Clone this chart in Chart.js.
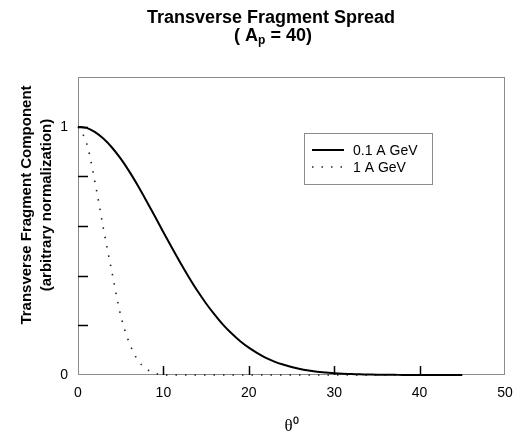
<!DOCTYPE html>
<html>
<head>
<meta charset="utf-8">
<script src="https://cdn.jsdelivr.net/npm/chart.js@4/dist/chart.umd.min.js"></script>
<style>
  html, body { margin: 0; padding: 0; background: #fff; }
  #wrap { width: 522px; height: 441px; }
</style>
</head>
<body>
<div id="wrap"><canvas id="myChart" width="522" height="441"></canvas></div>
<script>
// theta in degrees
const theta = [0,1,2,3,4,5,6,7,8,9,10,11,12,13,14,15,16,17,18,19,20,21,22,23,24,25,26,27,28,29,30,31,32,33,34,35,36,37,38,39,40,41,42,43,44,45]
// 0.1 A GeV
const spreadLow = [1.0,0.995,0.978,0.951,0.915,0.871,0.820,0.763,0.702,0.639,0.575,0.512,0.451,0.393,0.338,0.288,0.243,0.202,0.167,0.136,0.110,0.088,0.069,0.054,0.042,0.032,0.024,0.018,0.013,0.010,0.007,0.005,0.004,0.003,0.002,0.001,0.001,0.001,0,0,0,0,0,0,0,0]
// 1 A GeV
const spreadHigh = [1.0,0.935,0.775,0.585,0.41,0.24,0.13,0.06,0.025,0.007,0.001,0,0,0,0,0,0,0,0,0,0,0,0,0,0,0,0,0,0,0,0,0,0,0,0,0,0,0,0,0,0,0,0,0,0,0]
const seriesNames = ['0.1 A GeV', '1 A GeV']
const xTicks = [0, 10, 20, 30, 40, 50]
const yLabels = [0, 1]

const sans = 'Arial, "Liberation Sans", sans-serif'
Chart.defaults.font.family = sans
Chart.defaults.color = '#000'

function toPoints(ys) {
  return theta.map((t, i) => ({ x: t, y: ys[i] }))
}

// frame, inward ticks, titles and legend box
const decor = {
  id: 'decor',
  beforeDatasetsDraw(chart) {
    const ctx = chart.ctx
    const a = chart.chartArea
    ctx.save()
    ctx.strokeStyle = '#8c8c8c'
    ctx.lineWidth = 1
    ctx.strokeRect(a.left + 0.5, a.top + 0.5, a.right - a.left - 1, a.bottom - a.top - 1)
    ctx.restore()
  },
  afterDraw(chart) {
    const ctx = chart.ctx
    const a = chart.chartArea
    const xs = chart.scales.x
    const ys = chart.scales.y
    ctx.save()

    ctx.strokeStyle = '#000'
    ctx.lineWidth = 1.5
    ctx.beginPath()
    ys.ticks.forEach(t => {
      if (t.value <= 0 || t.value >= 1.2 - 1e-6) return
      const py = Math.round(ys.getPixelForValue(t.value)) + 0.5
      ctx.moveTo(a.left, py)
      ctx.lineTo(a.left + 10, py)
    })
    xs.ticks.forEach(t => {
      if (t.value <= 0 || t.value >= 50) return
      const px = Math.round(xs.getPixelForValue(t.value)) + 0.5
      ctx.moveTo(px, a.bottom)
      ctx.lineTo(px, a.bottom - 9)
    })
    ctx.stroke()

    // main title
    ctx.fillStyle = '#000'
    ctx.textAlign = 'center'
    ctx.textBaseline = 'alphabetic'
    ctx.font = 'bold 18px ' + sans
    ctx.fillText('Transverse Fragment Spread', 271, 23)
    const p1 = '( A', p2 = ' = 40)'
    const w1 = ctx.measureText(p1).width
    const w2 = ctx.measureText(p2).width
    ctx.font = 'bold 12px ' + sans
    const ws = ctx.measureText('p').width
    let x0 = 273 - (w1 + ws + w2) / 2
    ctx.textAlign = 'left'
    ctx.font = 'bold 18px ' + sans
    ctx.fillText(p1, x0, 41)
    ctx.font = 'bold 12px ' + sans
    ctx.fillText('p', x0 + w1, 44)
    ctx.font = 'bold 18px ' + sans
    ctx.fillText(p2, x0 + w1 + ws, 41)

    // y title, two lines
    ctx.save()
    ctx.translate(0, 205)
    ctx.rotate(-Math.PI / 2)
    ctx.textAlign = 'center'
    ctx.textBaseline = 'middle'
    ctx.font = 'bold 15px ' + sans
    ctx.fillText('Transverse Fragment Component', 0, 27)
    ctx.fillText('(arbitrary normalization)', 0, 47)
    ctx.restore()

    // legend
    ctx.strokeStyle = '#8c8c8c'
    ctx.lineWidth = 1
    ctx.strokeRect(304.5, 133.5, 128, 51)
    chart.data.datasets.forEach((ds, i) => {
      const ly = 150 + i * 17
      ctx.strokeStyle = ds.borderColor
      ctx.lineWidth = ds.borderWidth
      ctx.setLineDash(ds.borderDash || [])
      ctx.beginPath()
      ctx.moveTo(312, ly)
      ctx.lineTo(344, ly)
      ctx.stroke()
      ctx.setLineDash([])
      ctx.fillStyle = '#000'
      ctx.font = '14px ' + sans
      ctx.textAlign = 'left'
      ctx.textBaseline = 'middle'
      ctx.fillText(seriesNames[i], 353, ly + 1)
    })
    ctx.restore()
  }
}

const chart = new Chart(document.getElementById('myChart'), {
  type: 'line',
  data: {
    datasets: [
      {
        label: seriesNames[0],
        data: toPoints(spreadLow),
        borderColor: '#000',
        borderWidth: 2,
        pointRadius: 0,
        cubicInterpolationMode: 'monotone',
        clip: 4,
        fill: false
      },
      {
        label: seriesNames[1],
        data: toPoints(spreadHigh),
        borderColor: '#222',
        borderWidth: 1.6,
        borderDash: [1.5, 8],
        pointRadius: 0,
        cubicInterpolationMode: 'monotone',
        clip: 4,
        fill: false
      }
    ]
  },
  options: {
    responsive: false,
    animation: false,
    layout: { padding: { top: 77, right: 17, left: 0, bottom: 0 } },
    plugins: {
      legend: { display: false },
      title: { display: false },
      tooltip: { enabled: false }
    },
    scales: {
      x: {
        type: 'linear',
        min: 0,
        max: 50,
        afterBuildTicks: s => { s.ticks = xTicks.map(v => ({ value: v })) },
        ticks: { font: { size: 14 }, padding: 2, maxRotation: 0 },
        grid: { display: false },
        border: { display: false },
        title: {
          display: true,
          text: 'θ⁰',
          font: { family: '"Liberation Serif", "Times New Roman", serif', size: 17 },
          padding: { top: 0, bottom: 4 }
        },
        afterFit: s => { s.height = 66 }
      },
      y: {
        type: 'linear',
        min: 0,
        max: 1.2,
        ticks: {
          stepSize: 0.2,
          font: { size: 14 },
          padding: 2,
          callback: v => {
            const hit = yLabels.find(l => Math.abs(l - v) < 1e-6)
            return hit === undefined ? '' : String(hit)
          }
        },
        grid: { display: false },
        border: { display: false },
        afterFit: s => { s.width = 78 }
      }
    }
  },
  plugins: [decor]
})
</script>
</body>
</html>
